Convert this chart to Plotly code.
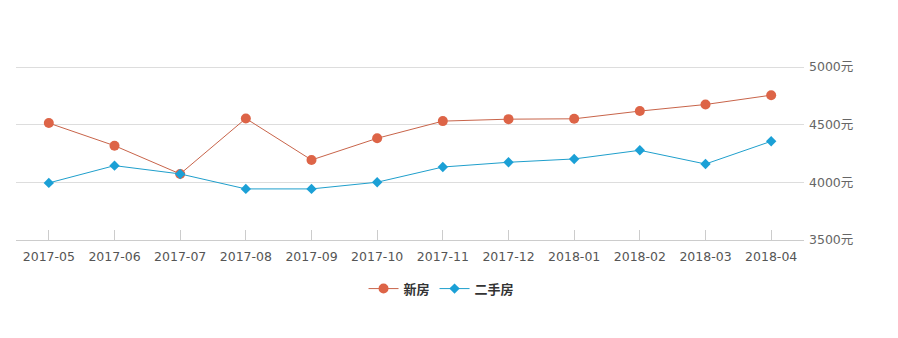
import plotly.graph_objects as go

months = ["2017-05", "2017-06", "2017-07", "2017-08", "2017-09", "2017-10",
          "2017-11", "2017-12", "2018-01", "2018-02", "2018-03", "2018-04"]
new_house = [4514, 4318, 4073, 4554, 4194, 4382, 4531, 4548, 4551, 4618, 4675, 4756]
second_hand = [3995, 4145, 4073, 3943, 3943, 4001, 4133, 4174, 4203, 4278, 4159, 4356]
y_ticks = [3500, 4000, 4500, 5000]
y_labels = [f"{v}元" for v in y_ticks]

FONT = "DejaVu Sans, Noto Sans CJK SC, sans-serif"

fig = go.Figure()
fig.add_trace(go.Scatter(
    x=months, y=new_house, name="新房", mode="lines+markers",
    line=dict(color="#c8644a", width=1),
    marker=dict(color="#dd6447", size=10, symbol="circle"),
))
fig.add_trace(go.Scatter(
    x=months, y=second_hand, name="二手房", mode="lines+markers",
    line=dict(color="#1f9fcc", width=1),
    marker=dict(color="#1ba0d6", size=8, symbol="diamond"),
))

fig.update_layout(
    width=898, height=338,
    margin=dict(l=16, r=94, t=63, b=98),
    paper_bgcolor="white", plot_bgcolor="white",
    font=dict(family=FONT, color="#555"),
    showlegend=True,
    legend=dict(orientation="h", x=0.54, xanchor="center", y=-0.19, yanchor="top",
                font=dict(size=13, color="#333", family="Noto Sans CJK SC", weight="bold")),
    xaxis=dict(
        type="category", showgrid=False, showline=True, linecolor="#cccccc",
        ticks="inside", ticklen=10, tickcolor="#cccccc",
        tickfont=dict(size=12.5, color="#555"), ticklabelstandoff=5,
        range=[-0.5, len(months) - 0.5], fixedrange=True,
    ),
    yaxis=dict(
        side="right", range=[3500, 5035], tickvals=y_ticks, ticktext=y_labels,
        showgrid=True, gridcolor="#dddddd", zeroline=False, showline=False,
        tickfont=dict(size=12.5, color="#666"), ticklabelstandoff=4,
    ),
)

fig.write_html("out.html")
